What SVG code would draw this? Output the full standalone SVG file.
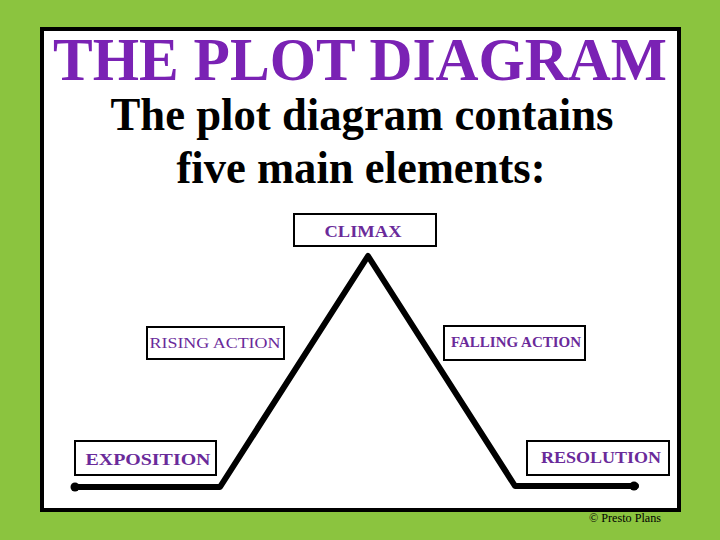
<svg xmlns="http://www.w3.org/2000/svg" width="720" height="540" viewBox="0 0 720 540">
<style>
.box{fill:#fff;stroke:#000;stroke-width:2}
.lbl{font-family:"Liberation Serif","Times New Roman",serif;fill:#6a2a9a;font-weight:bold;text-anchor:middle}
.plot{fill:none;stroke:#000;stroke-width:6;stroke-linecap:round;stroke-linejoin:round}
</style>
<rect width="720" height="540" fill="#8bc43f"/>
<rect x="42" y="29" width="637" height="481" fill="#fff" stroke="#000" stroke-width="4"/>
<g id="title">
<text x="360" y="80" font-family="Liberation Serif, serif" font-weight="bold" font-size="62" fill="#7a22b4" text-anchor="middle" textLength="614" lengthAdjust="spacingAndGlyphs">THE PLOT DIAGRAM</text>
<text x="362" y="130" font-family="Liberation Serif, serif" font-weight="bold" font-size="46" fill="#000" text-anchor="middle" textLength="503" lengthAdjust="spacingAndGlyphs">The plot diagram contains</text>
<text x="361" y="183" font-family="Liberation Serif, serif" font-weight="bold" font-size="46" fill="#000" text-anchor="middle" textLength="369" lengthAdjust="spacingAndGlyphs">five main elements:</text>
</g>
<g id="connectors">
<polyline class="plot" points="74,487 220,487 368,256 515,486 636,486"/>
<circle cx="75" cy="487" r="4.5"/>
<circle cx="634" cy="486" r="4.5"/>
</g>
<g id="climax">
<rect class="box" x="294" y="214" width="142" height="32"/>
<text class="lbl" x="363" y="237" font-size="17" textLength="77" lengthAdjust="spacingAndGlyphs">CLIMAX</text>
</g>
<g id="rising">
<rect class="box" x="147" y="327" width="137" height="32"/>
<text class="lbl" x="215" y="348" font-size="15" style="font-weight:normal" textLength="131" lengthAdjust="spacingAndGlyphs">RISING ACTION</text>
</g>
<g id="falling">
<rect class="box" x="444" y="326" width="141" height="34"/>
<text class="lbl" x="516" y="347" font-size="14" textLength="130" lengthAdjust="spacingAndGlyphs">FALLING ACTION</text>
</g>
<g id="exposition">
<rect class="box" x="75" y="441" width="141" height="34"/>
<text class="lbl" x="148" y="465" font-size="17" textLength="125" lengthAdjust="spacingAndGlyphs">EXPOSITION</text>
</g>
<g id="resolution">
<rect class="box" x="527" y="441" width="142" height="34"/>
<text class="lbl" x="601" y="463" font-size="17" textLength="120" lengthAdjust="spacingAndGlyphs">RESOLUTION</text>
</g>
<text x="625" y="522" font-family="Liberation Serif, serif" font-size="12" fill="#000" text-anchor="middle" textLength="72" lengthAdjust="spacingAndGlyphs">© Presto Plans</text>
</svg>
